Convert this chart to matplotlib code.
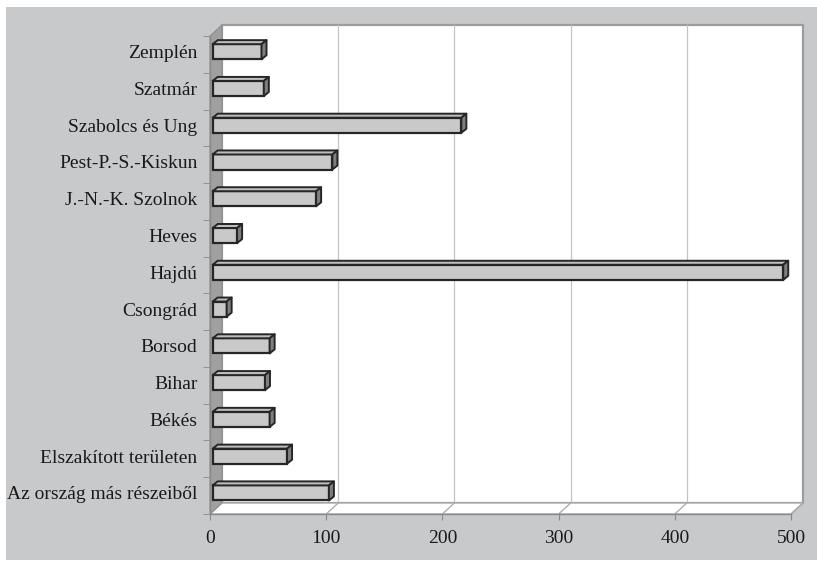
import matplotlib
matplotlib.use("Agg")
import matplotlib.pyplot as plt
from matplotlib.patches import Rectangle, Polygon
from matplotlib.collections import PolyCollection

# counties, bottom to top
categories = ["Az ország más részeiből", "Elszakított területen", "Békés", "Bihar",
              "Borsod", "Csongrád", "Hajdú", "Heves", "J.-N.-K. Szolnok",
              "Pest-P.-S.-Kiskun", "Szabolcs és Ung", "Szatmár", "Zemplén"]
values = [100, 64, 49, 45, 49, 12, 491, 21, 89, 103, 214, 44, 42]
xticks = [0, 100, 200, 300, 400, 500]

plt.rcParams['font.family'] = ['Liberation Serif', 'DejaVu Serif']

W, H = 817, 563
fig = plt.figure(figsize=(W / 100, H / 100), dpi=100)
fig.patch.set_facecolor("white")
# grey chart area
fig.add_artist(Rectangle((6 / W, 3 / H), 811 / W, 553 / H, transform=fig.transFigure,
                         facecolor="#c8c9cb", edgecolor="none", zorder=-10))

# front plane of the 3d box
ax = fig.add_axes([210 / W, (H - 514) / H, 581 / W, 478 / H])
ax.set_xlim(xticks[0], xticks[-1])
ax.set_ylim(-0.5, len(categories) - 0.5)
ax.patch.set_visible(False)

# pixel -> data units
ux = (xticks[-1] - xticks[0]) / 581
uy = len(categories) / 478
DX, DY = 12 * ux, 11 * uy
y0, y1 = -0.5, len(categories) - 0.5
xmax = xticks[-1]

# back wall
ax.add_patch(Rectangle((DX, y0 + DY), xmax, y1 - y0, facecolor="white",
                       edgecolor="#9c9c9c", lw=1.6, clip_on=False, zorder=1))
for t in xticks[1:-1]:
    ax.plot([t + DX, t + DX], [y0 + DY, y1 + DY], color="#c4c4c4", lw=0.9,
            clip_on=False, zorder=2)
# floor
ax.add_patch(Polygon([(0, y0), (xmax, y0), (xmax + DX, y0 + DY), (DX, y0 + DY)],
                     facecolor="white", edgecolor="#a8a8a8", lw=1.0, clip_on=False, zorder=2))
for t in xticks[1:]:
    ax.plot([t, t + DX], [y0, y0 + DY], color="#a8a8a8", lw=0.9, clip_on=False, zorder=2)
# left wall
ax.add_patch(Polygon([(0, y0), (DX, y0 + DY), (DX, y1 + DY), (0, y1)],
                     facecolor="#a0a0a0", edgecolor="#8e8e8e", lw=0.8, clip_on=False, zorder=2))

# bars
bh = 0.41
bx0, by0 = 2.7 * ux, 2.7 * uy
bdx, bdy = 5 * ux, 4 * uy
ys = [i + by0 for i in range(len(categories))]
ax.barh(ys, values, height=bh, left=bx0, color="#c9c9c9", edgecolor="#262626",
        lw=1.6, zorder=5)

tops, sides = [], []
for yc, v in zip(ys, values):
    yt, yb = yc + bh / 2, yc - bh / 2
    x1 = bx0 + v
    tops.append([(bx0, yt), (x1, yt), (x1 + bdx, yt + bdy), (bx0 + bdx, yt + bdy)])
    sides.append([(x1, yb), (x1, yt), (x1 + bdx, yt + bdy), (x1 + bdx, yb + bdy)])
ax.add_collection(PolyCollection(tops, facecolors="#bdbdbd", edgecolors="#262626",
                                 linewidths=1.4, zorder=6, clip_on=False))
ax.add_collection(PolyCollection(sides, facecolors="#7f7f7f", edgecolors="#262626",
                                 linewidths=1.4, zorder=6, clip_on=False))

# axes styling
for s in ["top", "right"]:
    ax.spines[s].set_visible(False)
for s in ["left", "bottom"]:
    ax.spines[s].set_color("#8a8a8a")
    ax.spines[s].set_linewidth(1.0)
    ax.spines[s].set_zorder(3)

ax.set_xticks(xticks)
ax.set_xticklabels([str(t) for t in xticks])
ax.tick_params(axis="x", direction="out", length=4.5, color="#8a8a8a", pad=7,
               labelsize=14, labelcolor="#1a1a1a")
# labels sit level with the bars
ax.set_yticks(ys)
ax.set_yticklabels(categories)
ax.set_yticks([i - 0.5 for i in range(len(categories) + 1)], minor=True)
ax.tick_params(axis="y", which="major", length=0, pad=9, labelsize=14,
               labelcolor="#1a1a1a")
ax.tick_params(axis="y", which="minor", direction="out", length=5, color="#8a8a8a")

fig.savefig("out.png", dpi=100, facecolor=fig.get_facecolor())
